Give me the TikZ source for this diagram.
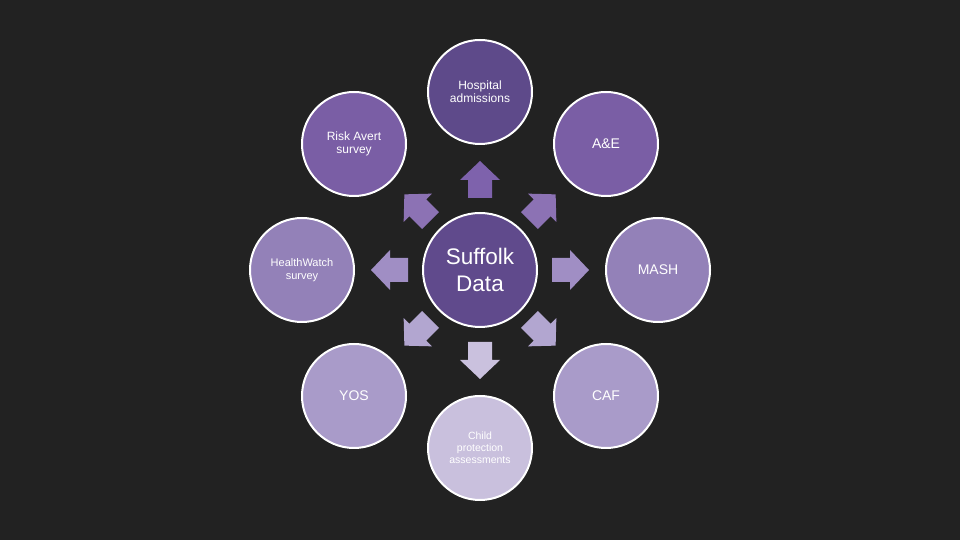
\documentclass[tikz,border=0pt]{standalone}
\usepackage{fontspec}
\setmainfont{Liberation Sans}
\definecolor{bg}{HTML}{222222}
\definecolor{cA}{HTML}{5E4A8A}
\definecolor{cB}{HTML}{7A5EA5}
\definecolor{cC}{HTML}{9381B8}
\definecolor{cD}{HTML}{A99BC9}
\definecolor{cE}{HTML}{C9C0DD}
\definecolor{cCenter}{HTML}{604A8C}
\definecolor{aA}{HTML}{7E62AC}
\definecolor{aB}{HTML}{8C72B4}
\definecolor{aC}{HTML}{A08EC4}
\definecolor{aD}{HTML}{B2A6D0}
\definecolor{aE}{HTML}{CAC1DE}
\tikzset{
  outer/.style={circle, draw=white, line width=2pt, minimum size=104pt, inner sep=0pt, text=white, align=center, font=\fontsize{12}{13}\selectfont},
  hub/.style={circle, draw=white, line width=2pt, minimum size=114pt, inner sep=0pt, fill=cCenter, text=white, align=center, font=\fontsize{22.5}{27}\selectfont}
}
\newcommand\blockarr[3]{%
  \fill[#3, shift={(#1)}, rotate=#2] (-18,-12) -- (0,-12) -- (0,-20) -- (19,0) -- (0,20) -- (0,12) -- (-18,12) -- cycle;}
\begin{document}
\begin{tikzpicture}[x=1pt,y=1pt]
\fill[bg] (0,0) rectangle (960,540);
\useasboundingbox (0,0) rectangle (960,540);
\node[hub] (hub) at (480,270) {Suffolk\\Data};
\node[outer, fill=cA] (hosp) at (480,448) {Hospital\\admissions};
\node[outer, fill=cB] (risk) at (354,396) {Risk Avert\\survey};
\node[outer, fill=cB, font=\fontsize{14}{15}\selectfont] (ae) at (606,396) {A\&E};
\node[outer, fill=cC, font=\fontsize{11}{12.5}\selectfont] (hw) at (302,270) {HealthWatch\\survey};
\node[outer, fill=cC, font=\fontsize{14}{15}\selectfont] (mash) at (658,270) {MASH};
\node[outer, fill=cD, font=\fontsize{14}{15}\selectfont] (yos) at (354,144) {YOS};
\node[outer, fill=cD, font=\fontsize{14}{15}\selectfont] (caf) at (606,144) {CAF};
\node[outer, fill=cE, font=\fontsize{10.5}{12}\selectfont] (child) at (480,92) {Child\\protection\\assessments};
\blockarr{480,360}{90}{aA}
\blockarr{417.8,332.2}{135}{aB}
\blockarr{542.2,332.2}{45}{aB}
\blockarr{390,270}{180}{aC}
\blockarr{570,270}{0}{aC}
\blockarr{417.8,207.8}{225}{aD}
\blockarr{542.2,207.8}{315}{aD}
\blockarr{480,180}{270}{aE}
\end{tikzpicture}
\end{document}
